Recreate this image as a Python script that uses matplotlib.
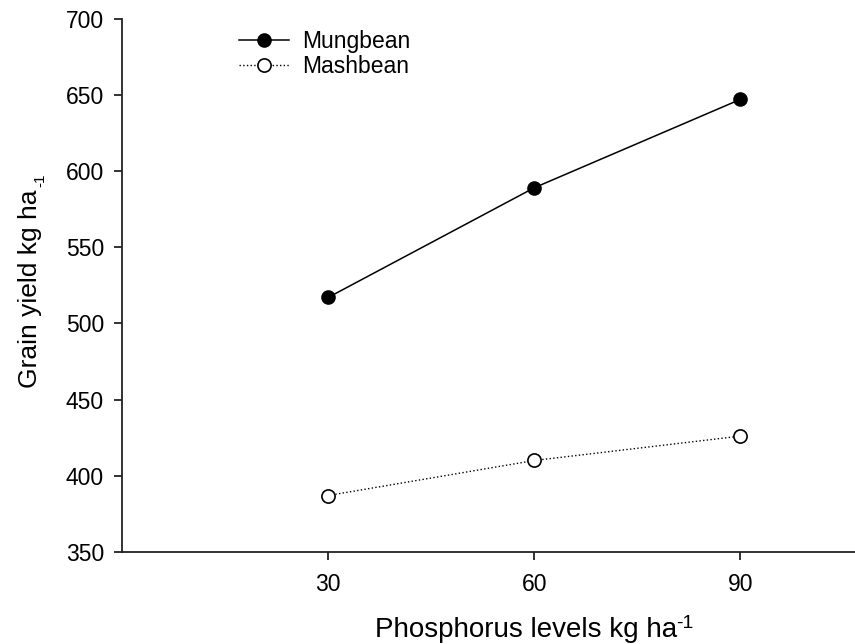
import matplotlib
matplotlib.use("Agg")
import matplotlib.pyplot as plt

plt.rcParams['font.family'] = ['Liberation Sans', 'DejaVu Sans']

# data
p_levels = [30, 60, 90]
mungbean = [517, 589, 647]
mashbean = [387, 410, 426]

fig = plt.figure(figsize=(8.55, 6.44), dpi=100)
ax = fig.add_axes([0.1427, 0.143, 0.8573, 0.828])

ax.plot(p_levels, mungbean, '-', color='black', linewidth=1.1,
        marker='o', markersize=9.5, markerfacecolor='black',
        markeredgecolor='black', label='Mungbean')
ax.plot(p_levels, mashbean, ':', color='black', linewidth=1.0,
        marker='o', markersize=9.5, markerfacecolor='white',
        markeredgecolor='black', markeredgewidth=1.2, label='Mashbean')

ax.set_xlim(0, 106.7)
ax.set_ylim(350, 700)
ax.set_xticks(p_levels)
ax.set_yticks(range(350, 701, 50))

for s in ['top', 'right']:
    ax.spines[s].set_visible(False)
for s in ['left', 'bottom']:
    ax.spines[s].set_linewidth(1.3)
    ax.spines[s].set_color('#222222')
ax.tick_params(axis='both', direction='out', length=6, width=1.3,
               labelsize=16.5, colors='#222222', labelcolor='black')
ax.tick_params(axis='x', pad=9)
ax.tick_params(axis='y', pad=7)

# labels with a plain-hyphen superscript
xl = ax.set_xlabel('Phosphorus levels kg ha', fontsize=20)
ax.xaxis.set_label_coords(0.551, -0.123)
yl = ax.set_ylabel('Grain yield kg ha', fontsize=19)
ax.yaxis.set_label_coords(-0.109, 0.493)
ax.annotate('-1', xy=(1, 0), xycoords=xl, xytext=(-0.5, 11.5),
            textcoords='offset points', fontsize=14, va='baseline', ha='left')
ax.annotate('-1', xy=(1, 1), xycoords=yl, xytext=(3.5, 2),
            textcoords='offset points', fontsize=11, va='bottom', ha='right',
            rotation=90)

leg = fig.legend(loc='upper left', bbox_to_anchor=(0.266, 0.971), frameon=False,
                 fontsize=16.5, handlelength=2.2, handletextpad=0.55,
                 labelspacing=0.08, borderpad=0)

fig.savefig('out.png', dpi=100)
